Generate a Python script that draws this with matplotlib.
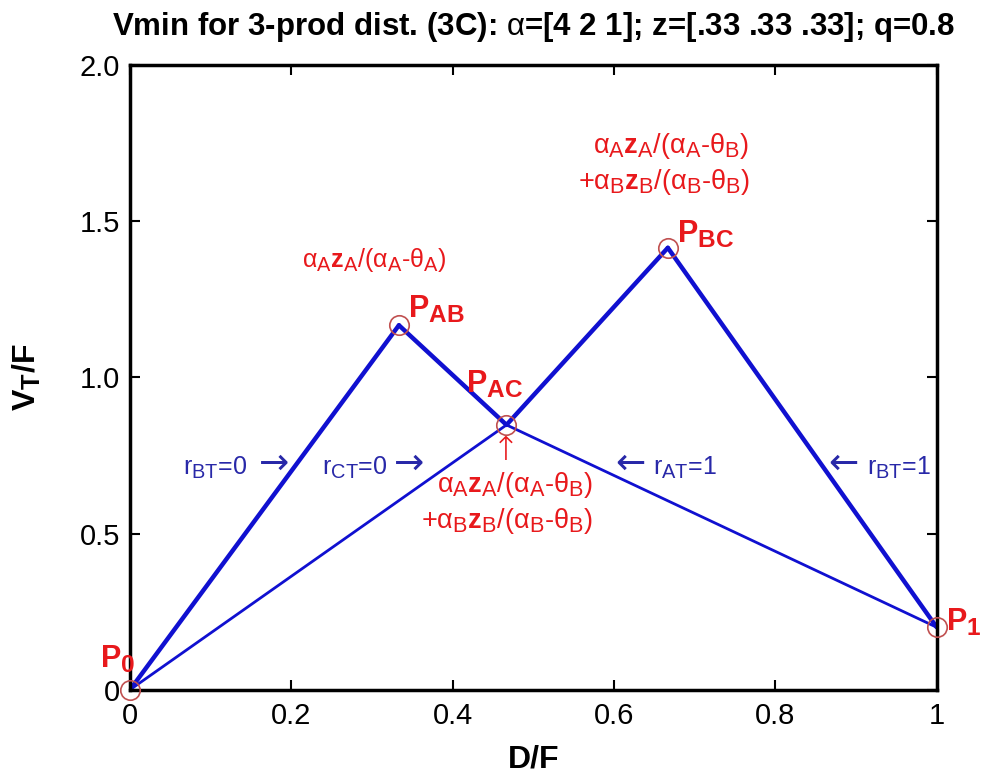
import numpy as np
import matplotlib
matplotlib.use("Agg")
import matplotlib.pyplot as plt

plt.rcParams['font.family'] = ['Liberation Sans', 'DejaVu Sans']
plt.rcParams['mathtext.fontset'] = 'custom'
plt.rcParams['mathtext.rm'] = 'Liberation Sans'
plt.rcParams['mathtext.it'] = 'Liberation Sans'
plt.rcParams['mathtext.bf'] = 'Liberation Sans:bold'

# MATLAB style subscripts are only slightly smaller than the base text
try:
    import matplotlib._mathtext as _mt
    _mt.SHRINK_FACTOR = 0.8
except Exception:
    pass

# corner points of the Vmin curves
pt_names = ["P0", "PAB", "PAC", "PBC", "P1"]
pt_x = [0.0, 1 / 3, 7 / 15, 2 / 3, 1.0]
pt_y = [0.0, 1.167, 0.848, 1.415, 0.2]

# segments (from, to) drawn thick and thin
thick_segs = [("P0", "PAB"), ("PAB", "PAC"), ("PAC", "PBC"), ("PBC", "P1")]
thin_segs = [("P0", "PAC"), ("PAC", "P1")]

x_ticks = [0, 0.2, 0.4, 0.6, 0.8, 1]
x_labels = ["0", "0.2", "0.4", "0.6", "0.8", "1"]
y_ticks = [0, 0.5, 1.0, 1.5, 2.0]
y_labels = ["0", "0.5", "1.0", "1.5", "2.0"]

BLUE = "#1010d0"
RED = "#e8191c"
MRED = "#c05050"
NAVY = "#2828a8"

pos = {n: (x, y) for n, x, y in zip(pt_names, pt_x, pt_y)}

fig = plt.figure(figsize=(9.85, 7.75), dpi=100)
ax = fig.add_axes([0.132, 0.110, 0.819, 0.806])

for a, b in thick_segs:
    ax.plot([pos[a][0], pos[b][0]], [pos[a][1], pos[b][1]], color=BLUE, lw=3.2,
            solid_capstyle='round')
for a, b in thin_segs:
    ax.plot([pos[a][0], pos[b][0]], [pos[a][1], pos[b][1]], color=BLUE, lw=2.0)

ax.plot(pt_x, pt_y, 'o', ls='none', ms=14, mfc='none', mec=MRED, mew=1.2,
        clip_on=False, zorder=5)

ax.set_xlim(0, 1)
ax.set_ylim(0, 2)
ax.set_xticks(x_ticks)
ax.set_xticklabels(x_labels)
ax.set_yticks(y_ticks)
ax.set_yticklabels(y_labels)
ax.tick_params(direction='in', length=7, width=1.5, labelsize=21,
               top=True, right=True)
ax.tick_params(axis='x', pad=9)
ax.tick_params(axis='y', pad=7)
for s in ax.spines.values():
    s.set_linewidth(2.5)

ax.set_xlabel("D/F", fontsize=23, fontweight='bold')
ax.xaxis.set_label_coords(0.5, -0.088)
ax.set_ylabel(r"V$_\mathbf{T}$/F", fontsize=23, fontweight='bold')
ax.yaxis.set_label_coords(-0.108, 0.5)
ax.set_title(r"Vmin for 3-prod dist. (3C): $\alpha$=[4 2 1]; z=[.33 .33 .33]; q=0.8",
             fontsize=22.5, fontweight='bold', pad=22)

# point labels
pkw = dict(color=RED, fontsize=22, fontweight='bold')
ax.text(-0.037, 0.07, r"P$_\mathbf{0}$", **pkw)
ax.text(0.345, 1.19, r"P$_\mathbf{AB}$", **pkw)
ax.text(0.417, 0.95, r"P$_\mathbf{AC}$", **pkw)
ax.text(0.678, 1.43, r"P$_\mathbf{BC}$", **pkw)
ax.text(1.012, 0.19, r"P$_\mathbf{1}$", **pkw)

# formula annotations
ax.text(0.302, 1.375, r"$\alpha_A\mathbf{z}_A/(\alpha_A$-$\theta_A)$", ha='center', va='center',
        color=RED, fontsize=18)
fkw = dict(color=RED, fontsize=19.5, ha='right', va='center')
ax.text(0.768, 1.74, r"$\alpha_A\mathbf{z}_A/(\alpha_A$-$\theta_B)$", **fkw)
ax.text(0.768, 1.625, r"+$\alpha_B\mathbf{z}_B/(\alpha_B$-$\theta_B)$", **fkw)
ax.text(0.466, 0.765, "\u2191", ha='center', va='center', color=RED, fontsize=24,
        family=['DejaVu Sans'], fontweight='light')
ax.text(0.574, 0.655, r"$\alpha_A\mathbf{z}_A/(\alpha_A$-$\theta_B)$", **fkw)
ax.text(0.574, 0.54, r"+$\alpha_B\mathbf{z}_B/(\alpha_B$-$\theta_B)$", **fkw)

# constraint labels, the arrows set apart in a font with wider arrows
bkw = dict(color=NAVY, fontsize=18, va='center')
akw = dict(color=NAVY, fontsize=26, va='center', family=['DejaVu Sans'])
ax.text(0.066, 0.71, r"r$_{BT}$=0", **bkw)
ax.text(0.160, 0.725, "\u2192", **akw)
ax.text(0.238, 0.71, r"r$_{CT}$=0", **bkw)
ax.text(0.327, 0.725, "\u2192", **akw)
ax.text(0.601, 0.725, "\u2190", **akw)
ax.text(0.648, 0.71, r"r$_{AT}$=1", **bkw)
ax.text(0.866, 0.725, "\u2190", **akw)
ax.text(0.913, 0.71, r"r$_{BT}$=1", **bkw)

fig.savefig("out.png", dpi=100)
